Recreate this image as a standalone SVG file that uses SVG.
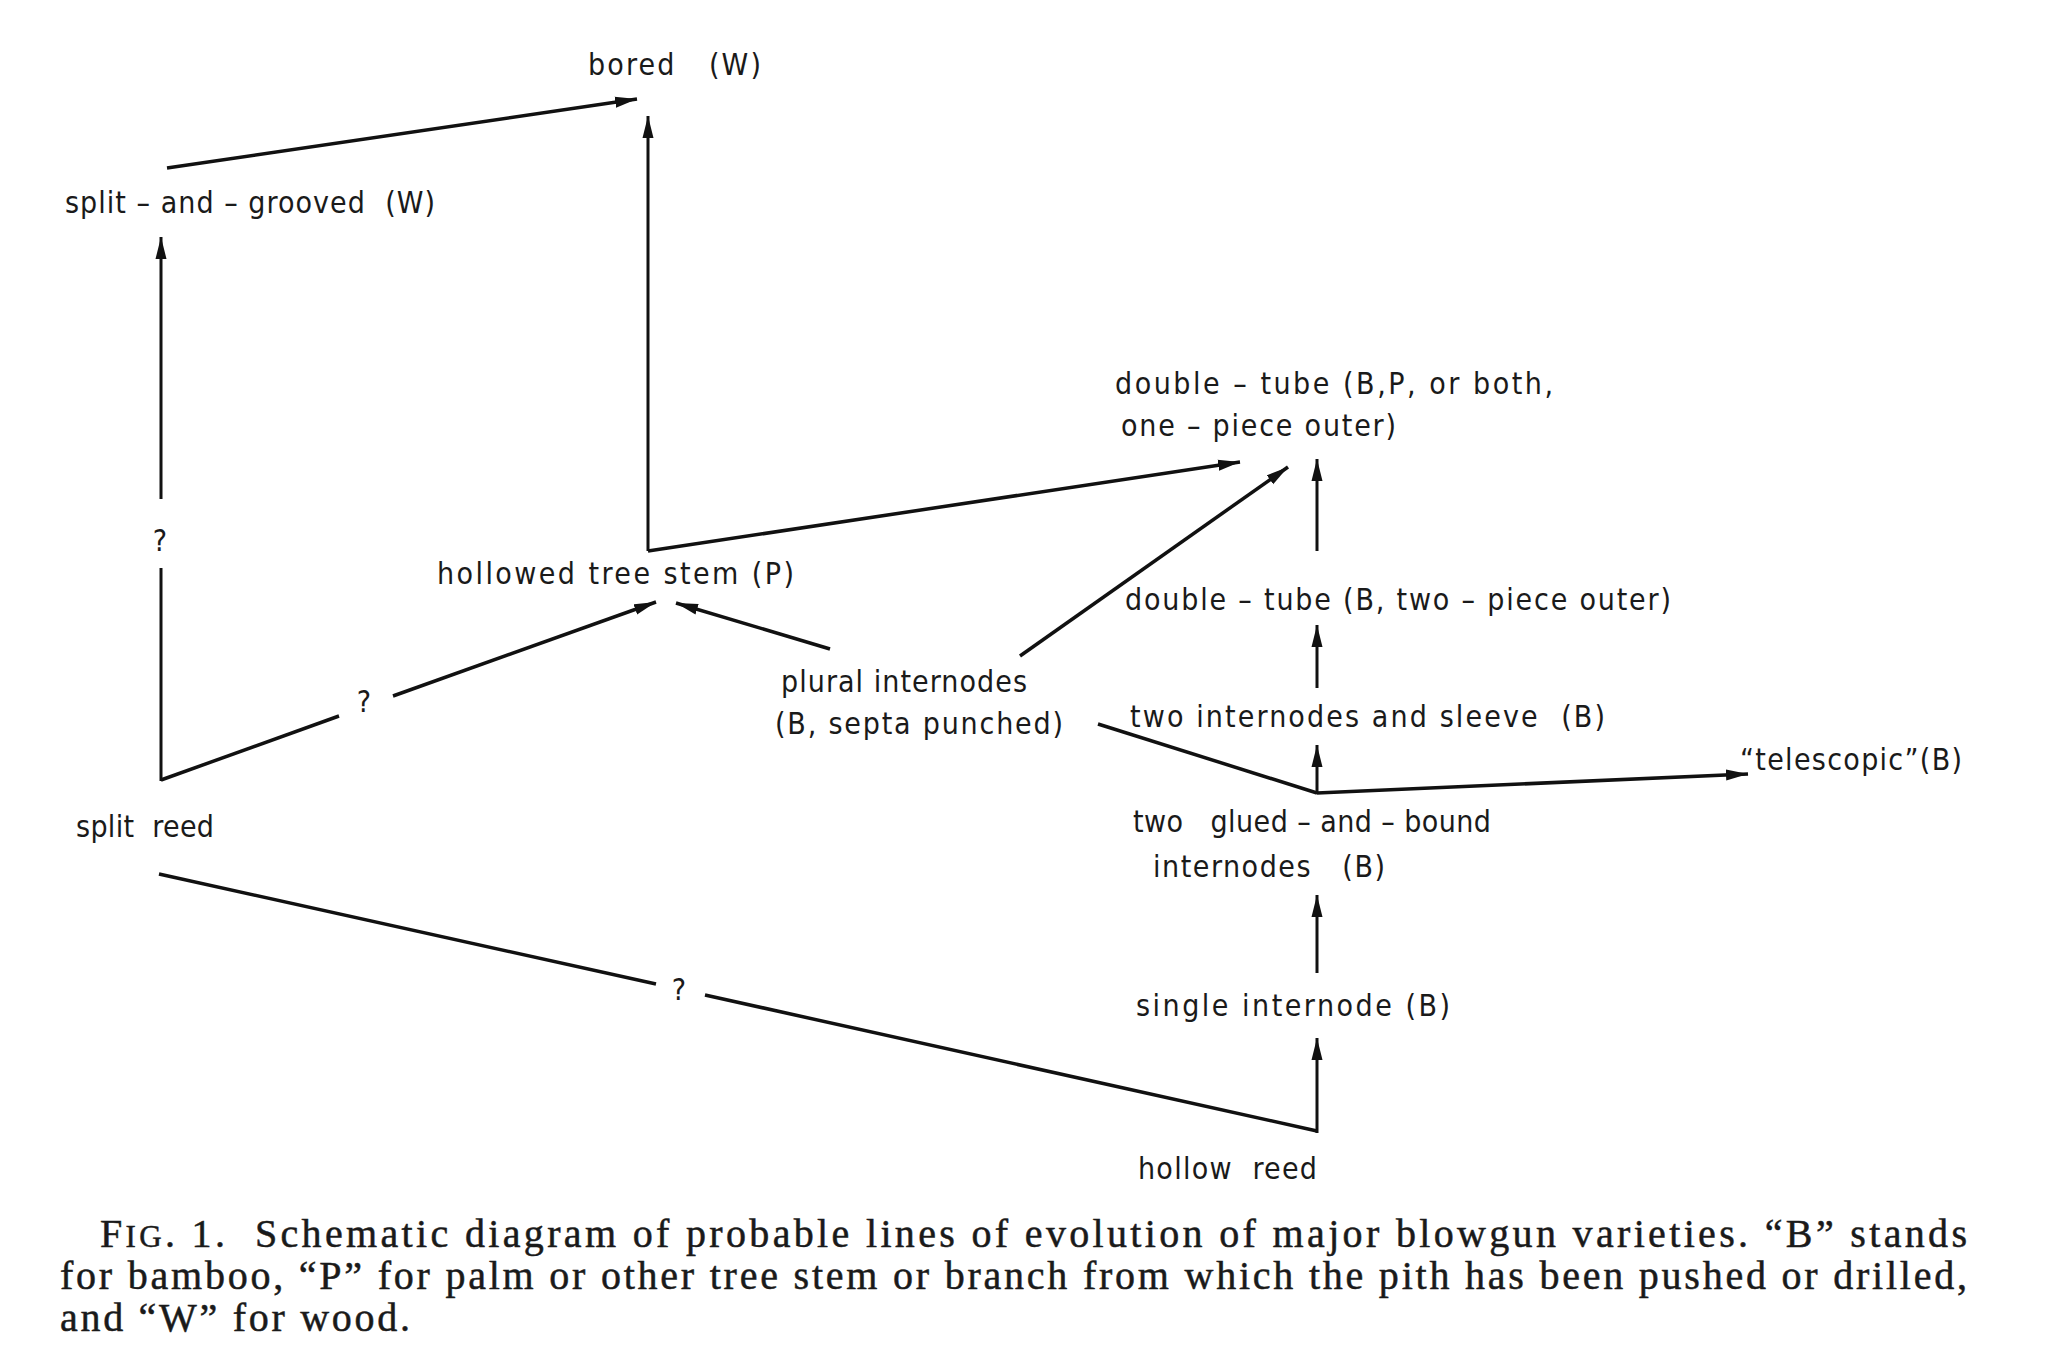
<svg xmlns="http://www.w3.org/2000/svg" width="2048" height="1368" viewBox="0 0 2048 1368">
<style>
.lbl{font-family:"DejaVu Sans Condensed","DejaVu Sans",sans-serif;font-size:30px;fill:#1a1a1a;font-stretch:condensed;white-space:pre}
.q{font-family:"DejaVu Sans Condensed","DejaVu Sans",sans-serif;font-size:30px;fill:#1a1a1a;text-anchor:middle}
.cap{font-family:"Liberation Serif","Times New Roman",serif;font-size:40px;fill:#1a1a1a;stroke:#1a1a1a;stroke-width:0.5;white-space:pre}
.ln{stroke:#111;stroke-width:3.5;fill:none;stroke-linecap:butt}
.vl{stroke:#111;stroke-width:3;fill:none}
</style>
<defs>
<marker id="ah" markerUnits="userSpaceOnUse" markerWidth="24" markerHeight="12" refX="22" refY="6" orient="auto">
<path d="M0,0.5 L22,6 L0,11.5 z" fill="#111"/>
</marker>
</defs>
<rect width="2048" height="1368" fill="#fff"/>

<g id="connectors">
<line class="ln" x1="167" y1="168" x2="637" y2="99" marker-end="url(#ah)"/>
<line class="vl" x1="648" y1="551" x2="648" y2="116" marker-end="url(#ah)"/>
<line class="ln" x1="648" y1="551" x2="1240" y2="462" marker-end="url(#ah)"/>
<line class="vl" x1="161" y1="781" x2="161" y2="568"/>
<line class="vl" x1="161" y1="499" x2="161" y2="237" marker-end="url(#ah)"/>
<line class="ln" x1="161" y1="780" x2="339" y2="716"/>
<line class="ln" x1="393" y1="696" x2="656" y2="602" marker-end="url(#ah)"/>
<line class="ln" x1="830" y1="649" x2="676" y2="603" marker-end="url(#ah)"/>
<line class="ln" x1="1020" y1="656" x2="1288" y2="467" marker-end="url(#ah)"/>
<line class="vl" x1="1317" y1="551" x2="1317" y2="459" marker-end="url(#ah)"/>
<line class="vl" x1="1317" y1="688" x2="1317" y2="625" marker-end="url(#ah)"/>
<line class="ln" x1="1098" y1="724" x2="1317" y2="793"/>
<line class="vl" x1="1317" y1="794" x2="1317" y2="745" marker-end="url(#ah)"/>
<line class="ln" x1="1317" y1="793" x2="1748" y2="774" marker-end="url(#ah)"/>
<line class="vl" x1="1317" y1="973" x2="1317" y2="895" marker-end="url(#ah)"/>
<line class="vl" x1="1317" y1="1133" x2="1317" y2="1038" marker-end="url(#ah)"/>
<line class="ln" x1="159" y1="874" x2="656" y2="984"/>
<line class="ln" x1="705" y1="995" x2="1317" y2="1131"/>
<text class="q" x="160" y="551">?</text>
<text class="q" x="364" y="712">?</text>
<text class="q" x="679" y="1000">?</text>
</g>

<g id="bored"><text class="lbl" x="588" y="75" textLength="173" lengthAdjust="spacing">bored   (W)</text></g>
<g id="split-and-grooved"><text class="lbl" x="65" y="213" textLength="370" lengthAdjust="spacing">split – and – grooved  (W)</text></g>
<g id="hollowed-tree-stem"><text class="lbl" x="437" y="584" textLength="357" lengthAdjust="spacing">hollowed tree stem (P)</text></g>
<g id="double-tube-one-piece">
<text class="lbl" x="1115" y="394" textLength="438" lengthAdjust="spacing">double – tube (B,P, or both,</text>
<text class="lbl" x="1121" y="436" textLength="275" lengthAdjust="spacing">one – piece outer)</text>
</g>
<g id="double-tube-two-piece"><text class="lbl" x="1125" y="610" textLength="546" lengthAdjust="spacing">double – tube (B, two – piece outer)</text></g>
<g id="plural-internodes">
<text class="lbl" x="781" y="692" textLength="246" lengthAdjust="spacing">plural internodes</text>
<text class="lbl" x="775" y="734" textLength="288" lengthAdjust="spacing">(B, septa punched)</text>
</g>
<g id="two-internodes-sleeve"><text class="lbl" x="1130" y="727" textLength="475" lengthAdjust="spacing">two internodes and sleeve  (B)</text></g>
<g id="telescopic"><text class="lbl" x="1740" y="770" textLength="222" lengthAdjust="spacing">“telescopic”(B)</text></g>
<g id="split-reed"><text class="lbl" x="76" y="837" textLength="138" lengthAdjust="spacing">split  reed</text></g>
<g id="two-glued-and-bound">
<text class="lbl" x="1133" y="832" textLength="358" lengthAdjust="spacing">two   glued – and – bound</text>
<text class="lbl" x="1153" y="877" textLength="232" lengthAdjust="spacing">internodes   (B)</text>
</g>
<g id="single-internode"><text class="lbl" x="1136" y="1016" textLength="314" lengthAdjust="spacing">single internode (B)</text></g>
<g id="hollow-reed"><text class="lbl" x="1138" y="1179" textLength="179" lengthAdjust="spacing">hollow  reed</text></g>

<g id="caption">
<text class="cap" x="100" y="1247" textLength="1867" lengthAdjust="spacing">F<tspan font-size="31">IG</tspan>. 1.  Schematic diagram of probable lines of evolution of major blowgun varieties. “B” stands</text>
<text class="cap" x="60" y="1289" textLength="1907" lengthAdjust="spacing">for bamboo, “P” for palm or other tree stem or branch from which the pith has been pushed or drilled,</text>
<text class="cap" x="60" y="1331" textLength="350" lengthAdjust="spacing">and “W” for wood.</text>
</g>
</svg>
